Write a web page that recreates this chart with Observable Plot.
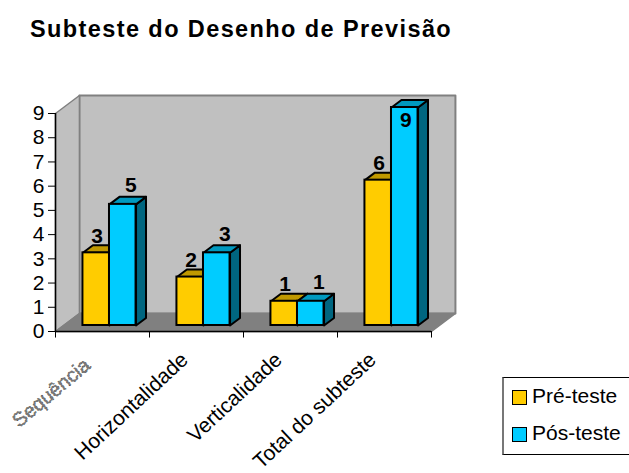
<!DOCTYPE html>
<html><head><meta charset="utf-8">
<script src="https://cdn.jsdelivr.net/npm/d3@7"></script>
<script src="https://cdn.jsdelivr.net/npm/@observablehq/plot@0.6"></script>
<style>
html,body{margin:0;padding:0;background:#fff;font-family:"Liberation Sans",Arial,sans-serif;}
#wrap{position:relative;width:629px;height:473px;overflow:hidden;}
#title{position:absolute;left:30px;top:16px;font-weight:bold;font-size:23.5px;letter-spacing:1.4px;color:#000;white-space:nowrap;}
#chart{position:absolute;left:0;top:0;}
#legend{position:absolute;left:502px;top:377px;width:127px;height:78px;box-sizing:border-box;border:1px solid #000;border-left:2px solid #777;border-right:none;font-size:21px;color:#000;}
#legend div{position:absolute;left:28px;white-space:nowrap;}
#legend i{position:absolute;left:-20px;top:6px;width:13px;height:13px;border:1.5px solid #000;}
</style></head><body>
<div id="wrap">
<div id="chart"></div>
<div id="title">Subteste do Desenho de Previsão</div>
<div id="legend">
<div style="top:6px"><i style="background:#FFCC00"></i>Pré-teste</div>
<div style="top:43px"><i style="background:#00CCFF"></i>Pós-teste</div>
</div>
</div>
<script>
const categories = ["Sequência","Horizontalidade","Verticalidade","Total do subteste"];
const preTeste = [3,2,1,6];
const posTeste = [5,3,1,9];
const yTicks = [0,1,2,3,4,5,6,7,8,9];

// Pseudo-3D depth, in data units (category widths and y units).
const depthX = 0.2546, depthY = 0.744;
const barFrontD = 1/3, barBackD = 0.75;
const barStart = 0.207, barWidth = 0.2825;
const proj = (x, y, d) => ({x: x + d * depthX, y: y + d * depthY});

const nCat = categories.length, yMax = 9;
const poly = (id, pts) => pts.map(p => ({id, ...p}));

const leftWall = poly("l", [proj(0,0,0),proj(0,0,1),proj(0,yMax,1),proj(0,yMax,0),proj(0,0,0)]);
const backWall = poly("b", [proj(0,0,1),proj(nCat,0,1),proj(nCat,yMax,1),proj(0,yMax,1),proj(0,0,1)]);
const floor = poly("f", [proj(0,0,0),proj(0,0,1),proj(nCat,0,1),proj(nCat,0,0),proj(0,0,0)]);

const bar = (i, s, v) => {
  const x1 = i + barStart + s * barWidth, x2 = x1 + barWidth;
  return {id: i + "-" + s, i, s, v, x1, x2};
};
const bars0 = preTeste.map((v,i) => bar(i,0,v));
const bars1 = posTeste.map((v,i) => bar(i,1,v));
const front = b => ({x1: proj(b.x1,0,barFrontD).x, x2: proj(b.x2,0,barFrontD).x, y1: proj(0,0,barFrontD).y, y2: proj(0,b.v,barFrontD).y});
const top_ = b => poly(b.id, [proj(b.x1,b.v,barFrontD),proj(b.x1,b.v,barBackD),proj(b.x2,b.v,barBackD),proj(b.x2,b.v,barFrontD),proj(b.x1,b.v,barFrontD)]);
const side = b => poly(b.id, [proj(b.x2,0,barFrontD),proj(b.x2,0,barBackD),proj(b.x2,b.v,barBackD),proj(b.x2,b.v,barFrontD),proj(b.x2,0,barFrontD)]);
const labelPoint = b => ({...proj((b.x1+b.x2)/2, b.v, barFrontD), v: b.v});

const wallStyle = {x:"x", y:"y", z:"id", fill:"#C0C0C0", stroke:"#808080", strokeWidth:2};
const faces = (bars, frontFill, topFill, sideFill) => [
  Plot.line(bars.flatMap(side), {x:"x", y:"y", z:"id", fill:sideFill, stroke:"#000", strokeWidth:2}),
  Plot.line(bars.flatMap(top_), {x:"x", y:"y", z:"id", fill:topFill, stroke:"#000", strokeWidth:2}),
  Plot.rect(bars.map(front), {x1:"x1", x2:"x2", y1:"y1", y2:"y2", fill:frontFill, stroke:"#000", strokeWidth:2})
];
const labelStyle = {x:"x", y:"y", text:"v", fontSize:21, fontWeight:"bold", fill:"#000"};
const isTop = p => p.v === yMax;

const plot = Plot.plot({
  width:629, height:473,
  marginLeft:55, marginRight:198, marginTop:113, marginBottom:142,
  style:{fontFamily:"'Liberation Sans',Arial,sans-serif", background:"transparent", overflow:"visible"},
  x:{domain:[0,nCat], axis:null},
  y:{domain:[0,yMax], axis:null},
  marks:[
    Plot.line(backWall, wallStyle),
    Plot.line(leftWall, {...wallStyle, strokeWidth:1.5}),
    Plot.line(floor, {x:"x", y:"y", z:"id", fill:"#808080", stroke:"#808080"}),
    Plot.ruleY([0], {stroke:"#000", strokeWidth:1.5}),
    Plot.ruleX([0], {stroke:"#000", strokeWidth:1.5}),
    Plot.axisY({ticks:yTicks, tickSize:7, tickPadding:4, fontSize:21, label:null, tickFormat:d3.format("d"), color:"#000", stroke:"#000"}),
    Plot.ruleX(d3.range(nCat+1), {x:d=>d, y1:0, y2:-0.27, stroke:"#000", strokeWidth:1}),
    ...faces(bars0,"#FFCC00","#C09900","#806600"),
    ...faces(bars1,"#00CCFF","#0099BF","#006680"),
    Plot.text(bars0.map(labelPoint), {...labelStyle, dy:-17, dx:1}),
    Plot.text(bars1.map(labelPoint).filter(p=>!isTop(p)), {...labelStyle, dy:-19, dx:8}),
    Plot.text(bars1.map(labelPoint).filter(isTop), {...labelStyle, dy:13, dx:1}),
    Plot.text(categories.slice(1), {
      x:(d,i)=>i+1+0.5-0.125, y:()=>0, text:d=>d, rotate:-43, textAnchor:"end",
      dy:25, fontSize:21, fill:"#000"
    }),
    Plot.text(categories.slice(0,1), {
      x:()=>0.5-0.16, y:()=>0, text:d=>d, rotate:-40, textAnchor:"end",
      dy:31, fontSize:20, fill:"#777", stroke:"#222", strokeWidth:0.7, strokeDasharray:"1.6 1.8"
    })
  ]
});
document.getElementById("chart").appendChild(plot);
</script>
</body></html>
